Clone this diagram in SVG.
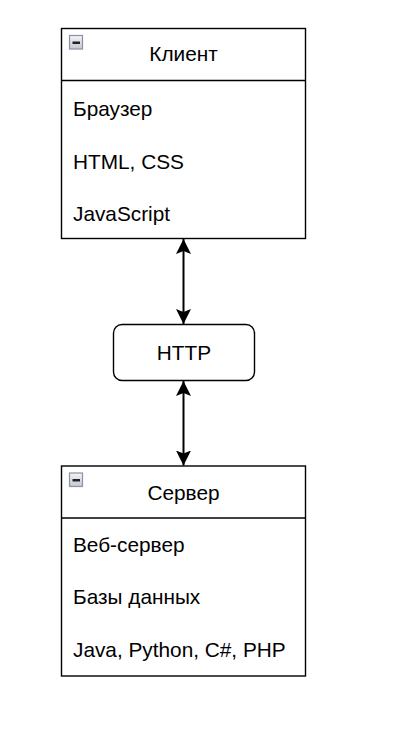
<svg xmlns="http://www.w3.org/2000/svg" width="408" height="738" viewBox="0 0 408 738">
<defs>
<linearGradient id="ig" x1="0" y1="0" x2="0" y2="1">
<stop offset="0" stop-color="#f4f5f8"/>
<stop offset="1" stop-color="#c3c7d1"/>
</linearGradient>
<marker id="ah" viewBox="0 0 15 15" refX="15" refY="7.5" markerWidth="15" markerHeight="15" markerUnits="userSpaceOnUse" orient="auto-start-reverse">
<path d="M15,7.5 L0,0 L3,7.5 L0,15 Z" fill="#000"/>
</marker>
</defs>
<style>
.box{fill:#fff;stroke:#000;stroke-width:1.4}
.t{font-family:"Liberation Sans",Arial,sans-serif;font-size:20.8px;fill:#000}
.h{text-anchor:middle}
.icon{fill:url(#ig);stroke:#8a92a4;stroke-width:1.2}
.edge{fill:none;stroke:#000;stroke-width:2}
</style>
<rect width="408" height="738" fill="#fff"/>
<g id="client">
<rect class="box" x="61.5" y="28.5" width="244" height="210"/>
<line class="box" x1="61.5" y1="80.5" x2="305.5" y2="80.5"/>
<rect class="icon" x="69.5" y="35.5" width="13" height="13.5"/>
<rect x="72.5" y="41.5" width="7.5" height="2.5" fill="#222"/>
<text class="t h" x="183.5" y="61">Клиент</text>
<text class="t" x="73" y="116">Браузер</text>
<text class="t" x="73" y="168.5">HTML, CSS</text>
<text class="t" x="73" y="221">JavaScript</text>
</g>
<g id="http">
<rect class="box" x="113.5" y="324.5" width="141" height="56" rx="8.5"/>
<text class="t h" x="184" y="360">HTTP</text>
</g>
<g id="server">
<rect class="box" x="61.5" y="466" width="244" height="210"/>
<line class="box" x1="61.5" y1="518" x2="305.5" y2="518"/>
<rect class="icon" x="69.5" y="473" width="13" height="13.5"/>
<rect x="72.5" y="479" width="7.5" height="2.5" fill="#222"/>
<text class="t h" x="183.5" y="500">Сервер</text>
<text class="t" x="73" y="551.5">Веб-сервер</text>
<text class="t" x="73" y="604">Базы данных</text>
<text class="t" x="73" y="656.5">Java, Python, C#, PHP</text>
</g>
<g id="connectors">
<line class="edge" x1="183.5" y1="239" x2="183.5" y2="324" marker-start="url(#ah)" marker-end="url(#ah)"/>
<line class="edge" x1="183.5" y1="381" x2="183.5" y2="465.5" marker-start="url(#ah)" marker-end="url(#ah)"/>
</g>
</svg>
